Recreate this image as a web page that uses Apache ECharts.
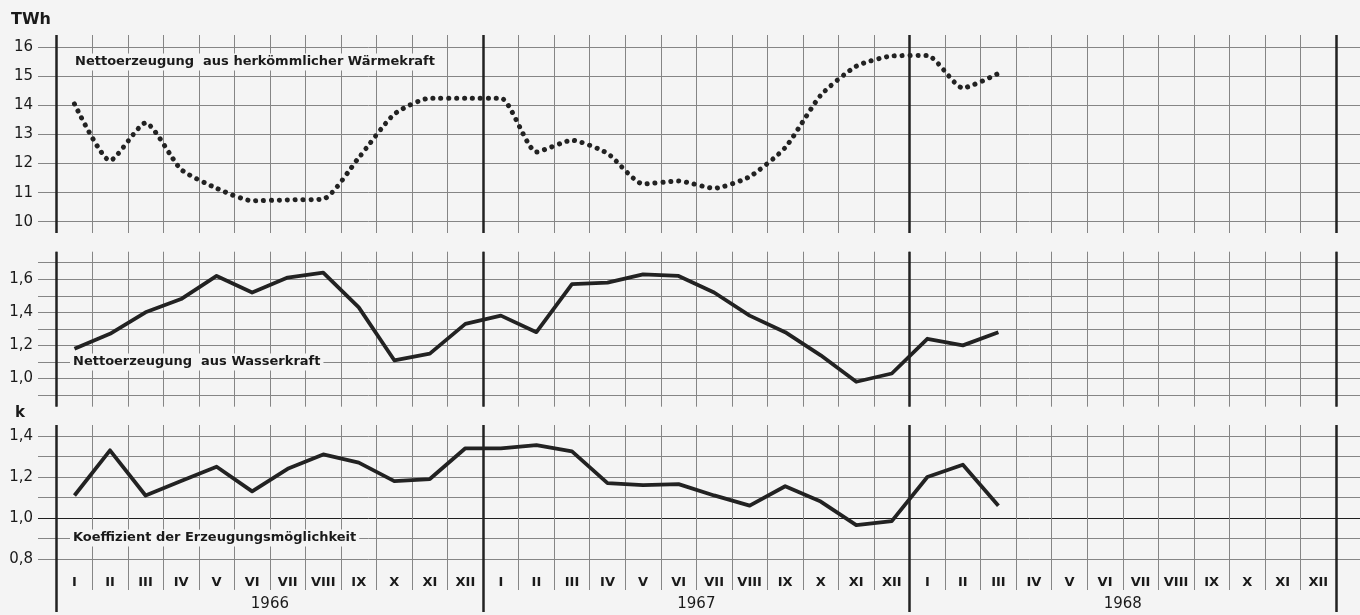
<!DOCTYPE html>
<html><head><meta charset="utf-8">
<script src="https://cdn.jsdelivr.net/npm/echarts@6/dist/echarts.min.js"></script>
<style>html,body{margin:0;padding:0;background:#f4f4f4}#c{width:1360px;height:615px}</style>
</head><body><div id="c"></div>
<script>
// ---------- data ----------
const years = ['1966', '1967', '1968'];
const months = ['I', 'II', 'III', 'IV', 'V', 'VI', 'VII', 'VIII', 'IX', 'X', 'XI', 'XII'];
// Nettoerzeugung aus herkömmlicher Wärmekraft (TWh)
const waermekraft = [
  14.05, 12.1, 13.4, 11.8, 11.15, 10.72, 10.75, 10.78, 12.2, 13.7, 14.25, 14.25,
  14.25, 12.4, 12.8, 12.35, 11.3, 11.4, 11.15, 11.55, 12.55, 14.35, 15.35, 15.7,
  15.72, 14.6, 15.1, null, null, null, null, null, null, null, null, null
];
// Nettoerzeugung aus Wasserkraft (TWh)
const wasserkraft = [
  1.18, 1.27, 1.40, 1.48, 1.62, 1.52, 1.61, 1.64, 1.43, 1.11, 1.15, 1.33,
  1.38, 1.28, 1.57, 1.58, 1.63, 1.62, 1.52, 1.38, 1.28, 1.14, 0.98, 1.03,
  1.24, 1.20, 1.28, null, null, null, null, null, null, null, null, null
];
// Koeffizient der Erzeugungsmöglichkeit (k)
const koeffizient = [
  1.11, 1.33, 1.11, 1.18, 1.25, 1.13, 1.24, 1.31, 1.27, 1.18, 1.19, 1.34,
  1.34, 1.355, 1.325, 1.17, 1.16, 1.165, 1.11, 1.06, 1.155, 1.08, 0.965, 0.985,
  1.20, 1.26, 1.06, null, null, null, null, null, null, null, null, null
];
const ticks1 = {min: 10, max: 16, interval: 1};
const ticks2 = {min: 0.9, max: 1.7, interval: 0.1};
const ticks3 = {min: 0.8, max: 1.4, interval: 0.1};
const labels = {
  unit1: 'TWh', unit3: 'k',
  s1: 'Nettoerzeugung  aus herkömmlicher Wärmekraft',
  s2: 'Nettoerzeugung  aus Wasserkraft',
  s3: 'Koeffizient der Erzeugungsmöglichkeit'
};
const categories = [];
years.forEach(y => months.forEach(m => categories.push(y + ' ' + m)));

// ---------- layout ----------
const FONT = 'DejaVu Sans';
const BG = '#f4f4f4';
const GRIDC = '#858585';
const DARK = '#222';
const X0 = 56.7, XW = 1279.3;
const panels = [
  {hTop: 47.3, hBot: 221.7, vTop: 35, vBot: 233, tBot: 233, t: ticks1, data: waermekraft, dotted: true,
   fmt: v => String(Math.round(v))},
  {hTop: 262.7, hBot: 395, vTop: 251.7, vBot: 406.7, tBot: 406.7, t: ticks2, data: wasserkraft,
   fmt: v => (Math.round(v * 10) % 2 === 0 ? v.toFixed(1).replace('.', ',') : '')},
  {hTop: 436, hBot: 559, vTop: 425, vBot: 590, tBot: 612, t: ticks3, data: koeffizient, labelsBottom: true,
   fmt: v => (Math.round(v * 10) % 2 === 0 ? v.toFixed(1).replace('.', ',') : '')}
];

const grid = [], xAxis = [], yAxis = [], series = [];
const hidden = {show: false};
panels.forEach((p, pi) => {
  const g = grid.length;
  // wide grid: horizontal lines + y labels
  grid.push({left: 38, right: 0, top: p.hTop, height: p.hBot - p.hTop});
  xAxis.push({gridIndex: g, type: 'value', show: false, min: 0, max: 1});
  let hColors = GRIDC;
  if (pi === 2) {
    hColors = [];
    for (let v = p.t.min; v <= p.t.max + 1e-9; v += p.t.interval) hColors.push(Math.abs(v - 1) < 1e-6 ? '#1e1e1e' : GRIDC);
  }
  yAxis.push({gridIndex: g, type: 'value', min: p.t.min, max: p.t.max, interval: p.t.interval,
    axisLine: hidden, axisTick: hidden,
    axisLabel: {formatter: p.fmt, fontFamily: FONT, fontSize: 15, color: '#1a1a1a', margin: 5},
    splitLine: {show: true, lineStyle: {color: hColors, width: 1}}});
  // data grid
  grid.push({left: X0, width: XW, top: p.hTop, height: p.hBot - p.hTop});
  xAxis.push({gridIndex: g + 1, type: 'category', data: categories, boundaryGap: true,
    axisLine: hidden, axisTick: hidden, splitLine: hidden,
    axisLabel: p.labelsBottom ? {show: true, interval: 0, margin: 17, fontFamily: FONT, fontSize: 13,
      fontWeight: 'bold', color: '#1a1a1a', formatter: v => v.split(' ')[1]} : hidden});
  yAxis.push({gridIndex: g + 1, type: 'value', min: p.t.min, max: p.t.max, interval: p.t.interval, show: false});
  // thin vertical lines
  grid.push({left: X0, width: XW, top: p.vTop, height: p.vBot - p.vTop});
  xAxis.push({gridIndex: g + 2, type: 'value', min: 0, max: 36, interval: 1,
    axisLine: hidden, axisTick: hidden, axisLabel: hidden,
    splitLine: {show: true, lineStyle: {color: GRIDC, width: 1}}});
  yAxis.push({gridIndex: g + 2, type: 'value', min: 0, max: 1, show: false});
  // thick vertical lines (year boundaries)
  grid.push({left: X0, width: XW, top: p.vTop, height: p.tBot - p.vTop});
  xAxis.push({gridIndex: g + 3, type: 'value', min: 0, max: 36, interval: 12,
    axisLine: hidden, axisTick: hidden, axisLabel: hidden,
    splitLine: {show: true, lineStyle: {color: DARK, width: 2.5}}});
  yAxis.push({gridIndex: g + 3, type: 'value', min: 0, max: 1, show: false});

  series.push({type: 'line', xAxisIndex: g + 1, yAxisIndex: g + 1, data: p.data,
    symbol: 'none', smooth: p.dotted ? 0.2 : false, connectNulls: false, z: 5,
    lineStyle: p.dotted ? {color: DARK, width: 5, type: [0.1, 7.8], cap: 'round'}
                        : {color: DARK, width: 3.8, join: 'round'}});
});
// year labels
const gy = grid.length;
grid.push({left: X0, width: XW, top: panels[2].hTop, height: panels[2].hBot - panels[2].hTop});
xAxis.push({gridIndex: gy, type: 'category', data: years, boundaryGap: true,
  axisLine: hidden, axisTick: hidden, splitLine: hidden,
  axisLabel: {show: true, interval: 0, margin: 38, fontFamily: FONT, fontSize: 15, color: '#1a1a1a'}});
yAxis.push({gridIndex: gy, type: 'value', min: 0, max: 1, show: false});

function label(text, x, y, size, bold, bg) {
  return {type: 'text', x: x, y: y, z: 100, style: {text: text, font: (bold ? 'bold ' : '') + size + 'px "' + FONT + '"',
    fill: '#1a1a1a', textVerticalAlign: 'middle', verticalAlign: 'middle',
    backgroundColor: bg ? BG : null, padding: bg ? [2, 3, 2, 3] : 0}};
}

const chart = echarts.init(document.getElementById('c'), null, {renderer: 'canvas'});
chart.setOption({
  backgroundColor: BG,
  animation: false,
  grid: grid, xAxis: xAxis, yAxis: yAxis, series: series,
  graphic: [
    label(labels.unit1, 11, 20, 16, true, false),
    label(labels.unit3, 15, 413, 15, true, false),
    label(labels.s1, 72, 62, 13, true, true),
    label(labels.s2, 70, 362, 13, true, true),
    label(labels.s3, 70, 538, 13, true, true)
  ]
});
</script></body></html>
